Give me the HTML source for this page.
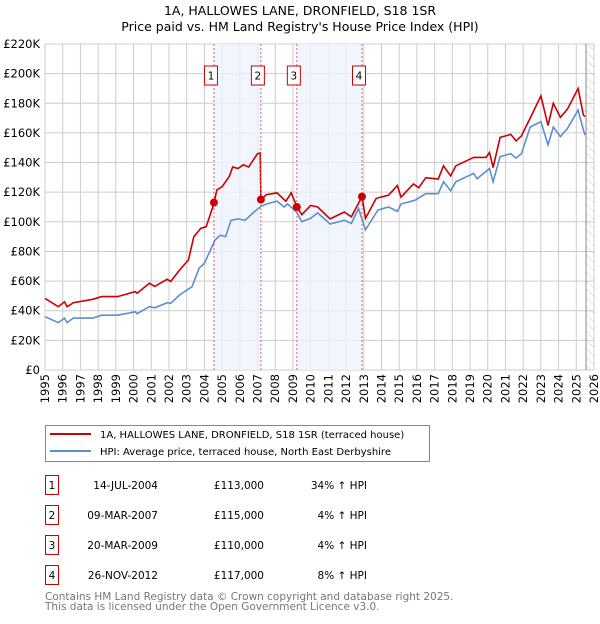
<!DOCTYPE html>
<html><head><meta charset="utf-8"><style>
body{margin:0;background:#fff;width:600px;height:620px;overflow:hidden;font-family:"DejaVu Sans","Liberation Sans",sans-serif;}
svg text{font-family:"DejaVu Sans","Liberation Sans",sans-serif;}
</style></head><body>
<svg id="chart" width="600" height="620" xmlns="http://www.w3.org/2000/svg">
<defs><pattern id="hatch" width="6" height="6" patternUnits="userSpaceOnUse" patternTransform="rotate(-45)"><line x1="0" y1="0" x2="0" y2="6" stroke="#ccc" stroke-width="1"/></pattern></defs>
<text x="300" y="15" font-size="12.5" text-anchor="middle">1A, HALLOWES LANE, DRONFIELD, S18 1SR</text>
<text x="300" y="31" font-size="12.5" text-anchor="middle">Price paid vs. HM Land Registry's House Price Index (HPI)</text>
<g id="grid"></g><g id="shade"></g><g id="series"></g><g id="marks"></g><g id="axes"></g>
<g>
<rect x="45.5" y="425.5" width="384" height="36" fill="#fff" stroke="#888"/>
<line x1="50" y1="434" x2="91" y2="434" stroke="#cc0000" stroke-width="2"/>
<text x="100" y="438" font-size="10">1A, HALLOWES LANE, DRONFIELD, S18 1SR (terraced house)</text>
<line x1="50" y1="451" x2="91" y2="451" stroke="#5b8fd0" stroke-width="2"/>
<text x="100" y="455" font-size="10">HPI: Average price, terraced house, North East Derbyshire</text>
</g>
<g id="table"></g>
<text x="45" y="600" font-size="10.5" fill="#777">Contains HM Land Registry data © Crown copyright and database right 2025.</text>
<text x="45" y="610" font-size="10.5" fill="#777">This data is licensed under the Open Government Licence v3.0.</text>
</svg>
<script>
const hpiYears=[1995.0,1995.75,1996.1,1996.25,1996.6,1997.7,1998.2,1999.1,2000.1,2000.2,2000.9,2001.2,2001.9,2002.1,2002.6,2003.3,2003.7,2004.0,2004.6,2004.9,2005.2,2005.5,2005.9,2006.3,2006.8,2007.2,2007.5,2008.1,2008.5,2008.7,2009.2,2009.5,2010.0,2010.4,2011.1,2011.9,2012.3,2012.7,2013.1,2013.8,2014.4,2014.9,2015.1,2015.9,2016.5,2017.2,2017.5,2017.9,2018.2,2019.2,2019.4,2020.1,2020.3,2020.7,2021.3,2021.6,2021.9,2022.4,2023.0,2023.4,2023.7,2024.1,2024.5,2025.1,2025.4,2025.5];
const hpiValues=[36,32,35,32,35,35,37,37,39.3,38,42.8,42,45.4,45,50.6,56.2,68.6,72,87.7,91,90,101,102,101,106.6,110.5,112,114,110,112,106.6,100,102.4,106,98.5,101,99,109,94.6,108,110,107,112,114.6,119,119,127,121,127,132.7,129,136,127,144,146,143,146,164,167.6,152,164,157.5,163,175.4,162,158.5];
const priceYears=[1995.0,1995.75,1996.1,1996.25,1996.6,1997.7,1998.2,1999.1,2000.1,2000.2,2000.9,2001.2,2001.9,2002.1,2002.6,2003.1,2003.4,2003.8,2004.1,2004.54,2004.7,2005.0,2005.4,2005.6,2005.9,2006.2,2006.5,2007.0,2007.15,2007.19,2007.5,2008.1,2008.6,2008.9,2009.22,2009.5,2010.0,2010.4,2011.1,2011.9,2012.3,2012.9,2013.1,2013.7,2014.4,2014.9,2015.1,2015.8,2016.1,2016.5,2017.2,2017.5,2017.9,2018.2,2019.2,2019.9,2020.1,2020.3,2020.7,2021.3,2021.6,2021.9,2022.4,2023.0,2023.4,2023.7,2024.1,2024.5,2025.1,2025.4,2025.5];
const priceValues=[48.3,42.7,46,42.7,45.4,47.7,49.5,49.5,52.9,51.8,58.6,56.4,61.3,59.7,67.5,74.2,89.9,95.6,96.7,112.5,121.5,123.7,130.5,137,136,138.5,137,146,146.5,115,118.4,119.5,113.9,119.5,110.4,104.8,111,110,102,106.6,103.4,117,102.4,115.8,118,124.5,116.6,125.6,123,129.8,128.8,137.8,131,137.8,143.5,143.5,146.8,136.6,157,159,154.6,158,170,185,165,180,170.5,176,190,172,171];
const saleLabels=["1","2","3","4"];
const saleYears=[2004.54,2007.19,2009.22,2012.9];
const saleValues=[113,115,110,117];
const saleDates=["14-JUL-2004","09-MAR-2007","20-MAR-2009","26-NOV-2012"];
const salePrices=["£113,000","£115,000","£110,000","£117,000"];
const saleDiffs=["34% ↑ HPI","4% ↑ HPI","4% ↑ HPI","8% ↑ HPI"];
const yTicks=[0,20,40,60,80,100,120,140,160,180,200,220];
const xTicks=[];for(let y=1995;y<=2026;y++)xTicks.push(y);
const NS="http://www.w3.org/2000/svg";
const L=45,R=594,T=44,B=370;
const xs=y=>L+(y-1995)/31*(R-L);
const ys=v=>B-v/220*(B-T);
function el(tag,attrs,parent,text){const e=document.createElementNS(NS,tag);for(const k in attrs)e.setAttribute(k,attrs[k]);if(text!==undefined)e.textContent=text;document.getElementById(parent)?document.getElementById(parent).appendChild(e):parent.appendChild(e);return e;}
// shading
let s=el('rect',{x:xs(saleYears[0]),y:T,width:xs(saleYears[1])-xs(saleYears[0]),height:B-T,fill:'#eef3fc',opacity:0.8},'shade');


s=el('rect',{x:xs(saleYears[2]),y:T,width:xs(saleYears[3])-xs(saleYears[2]),height:B-T,fill:'#eef3fc',opacity:0.8},'shade');


const hx=xs(2025.55);
s=el('rect',{x:hx,y:T,width:R-hx,height:B-T,fill:'url(#hatch)'},'shade');


el('line',{x1:hx,y1:T,x2:hx,y2:B,stroke:'#888','stroke-width':1},'shade');
// grid
yTicks.forEach(v=>{const g=el('line',{x1:L,x2:R,y1:ys(v),y2:ys(v),stroke:'#ccc','stroke-width':1},'grid');


const t=el('text',{x:L-5,y:ys(v)+4,'font-size':11.5,'text-anchor':'end'},'axes',v===0?'£0':'£'+v+'K');

});
xTicks.forEach(y=>{const g=el('line',{x1:xs(y),x2:xs(y),y1:T,y2:B,stroke:'#ccc','stroke-width':1},'grid');


const t=el('text',{x:0,y:0,'font-size':11.5,'text-anchor':'end',transform:`translate(${xs(y)+4},${B+4}) rotate(-90)`},'axes',String(y));

});
el('rect',{x:L,y:T,width:R-L,height:B-T,fill:'none',stroke:'#ccc'},'grid');
// series
const path=(xsArr,vals)=>xsArr.map((y,i)=>(i?'L':'M')+xs(y).toFixed(1)+','+ys(vals[i]).toFixed(1)).join('');
let p=el('path',{d:path(hpiYears,hpiValues),fill:'none',stroke:'#5b8fd0','stroke-width':1.6},'series');


p=el('path',{d:path(priceYears,priceValues),fill:'none',stroke:'#cc0000','stroke-width':1.6},'series');


// sale markers
saleYears.forEach((y,i)=>{const x=xs(y);
el('line',{x1:x,x2:x,y1:T,y2:B,stroke:'#e06060','stroke-width':1,'stroke-dasharray':'2,2'},'marks');
const c=el('circle',{cx:x,cy:ys(saleValues[i]),r:4,fill:'#cc0000'},'marks');


const b=el('rect',{x:x-9.5,y:66,width:13,height:19,fill:'#fff',stroke:'#cc0000'},'marks');


el('text',{x:x-3,y:79.5,'font-size':10.5,'text-anchor':'middle'},'marks',saleLabels[i]);
// table
const ty=475+i*30;
const tb=el('rect',{x:45.5,y:ty+0.5,width:13,height:19,fill:'#fff',stroke:'#cc0000'},'table');


el('text',{x:52,y:ty+14,'font-size':10.5,'text-anchor':'middle'},'table',saleLabels[i]);
let t=el('text',{x:158,y:ty+14,'font-size':10.5,'text-anchor':'end'},'table',saleDates[i]);


t=el('text',{x:264,y:ty+14,'font-size':10.5,'text-anchor':'end'},'table',salePrices[i]);


t=el('text',{x:367,y:ty+14,'font-size':10.5,'text-anchor':'end'},'table',saleDiffs[i]);


});
</script>
</body></html>
